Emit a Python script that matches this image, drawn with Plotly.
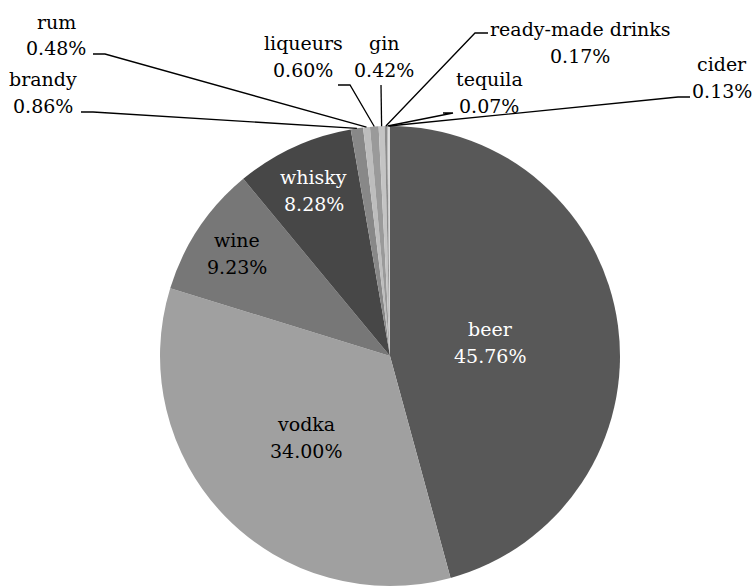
import math
import plotly.graph_objects as go

# ---- data ----
categories = ["beer", "vodka", "wine", "whisky", "brandy", "rum", "liqueurs",
              "gin", "ready-made drinks", "tequila", "cider"]
shares = [45.76, 34.00, 9.23, 8.28, 0.86, 0.48, 0.60, 0.42, 0.17, 0.07, 0.13]
pct_labels = ["45.76%", "34.00%", "9.23%", "8.28%", "0.86%", "0.48%", "0.60%",
              "0.42%", "0.17%", "0.07%", "0.13%"]

# ---- styling / layout constants ----
colors = ["#585858", "#a0a0a0", "#777777", "#474747", "#888888", "#bdbdbd",
          "#9a9a9a", "#c4c4c4", "#8c8c8c", "#b0b0b0", "#d8d8d8"]
W, H = 756, 586
CX, CY, R = 390, 356, 230          # pixel centre / radius of the pie
FONT = "DejaVu Serif"
FS = 19
HALF_GAP = 13.5                    # half of the line spacing (px)

# inside labels: radial fraction of radius; text colour
inside = {"beer": (0.44, "white"), "vodka": (0.51, "black"),
          "wine": (0.80, "black"), "whisky": (0.79, "white")}
# outside labels: text centre (px), leader elbow (px), tick end (px)
outside = {
    "brandy":            ((43, 93),  (93, 112),  (81, 112)),
    "rum":               ((56, 35),  (105, 54),  (93, 54)),
    "liqueurs":          ((303, 56), (350, 85),  (338, 85)),
    "gin":               ((384, 56), (381, 85),  (381, 85)),
    "ready-made drinks": ((580, 42), (475, 33),  (488, 33)),
    "tequila":           ((489, 93), (453, 113), (443, 113)),
    "cider":             ((722, 77), (678, 97),  (690, 97)),
}

def px(x):
    return x / W

def py(y):
    return 1 - y / H

fig = go.Figure(go.Pie(
    labels=categories, values=shares, sort=False, direction="clockwise",
    rotation=0, marker=dict(colors=colors, line=dict(width=0)),
    textinfo="none", hoverinfo="label+percent", showlegend=False,
    domain=dict(x=[px(CX - R), px(CX + R)], y=[py(CY + R), py(CY - R)]),
))

total = sum(shares)
cum = 0.0
annotations, shapes = [], []
for name, v, p in zip(categories, shares, pct_labels):
    mid = math.radians((cum + v / 2) / total * 360)
    cum += v
    if name in inside:
        f, col = inside[name]
        x = CX + f * R * math.sin(mid)
        y = CY - f * R * math.cos(mid)
    else:
        (x, y), (ex, ey), (kx, ky) = outside[name]
        col = "black"
        sx = CX + R * math.sin(mid)
        sy = CY - R * math.cos(mid)
        path = (f"M {px(sx)},{py(sy)} L {px(ex)},{py(ey)} "
                f"L {px(kx)},{py(ky)}")
        shapes.append(dict(type="path", xref="paper", yref="paper", path=path,
                           line=dict(color="black", width=1.3)))
    for txt, dy in ((name, -HALF_GAP), (p, HALF_GAP)):
        annotations.append(dict(x=px(x), y=py(y + dy), xref="paper",
                                yref="paper", xanchor="center",
                                yanchor="middle", align="center",
                                text=txt, showarrow=False,
                                font=dict(family=FONT, size=FS, color=col)))

fig.update_layout(width=W, height=H, margin=dict(l=0, r=0, t=0, b=0),
                  paper_bgcolor="white", plot_bgcolor="white",
                  annotations=annotations, shapes=shapes,
                  font=dict(family=FONT, size=FS))
fig.write_html("out.html")
